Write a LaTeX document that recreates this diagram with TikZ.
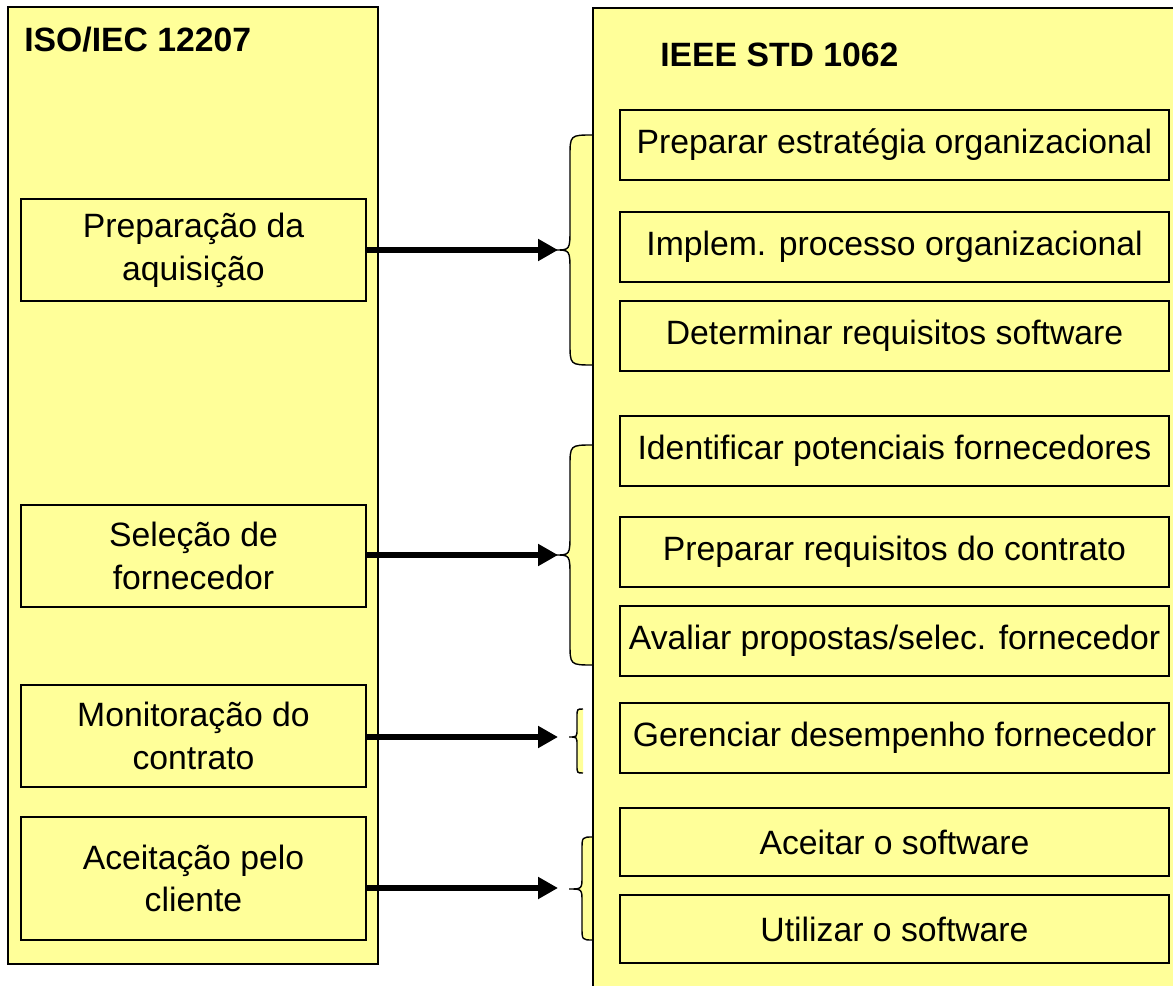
\documentclass[tikz,border=0pt]{standalone}
\usepackage{fontspec}
\setmainfont{Liberation Sans}
\usetikzlibrary{arrows.meta}
\definecolor{paleyellow}{HTML}{FFFF99}
\def\curlybrace(#1:#2:#3)(#4:#5:#6:#7){\path[bracefill] (#1,#4) .. controls (#2,#4) .. (#2,#4+#7) -- (#2,#5-#7) .. controls (#2,#5) .. (#3,#5) .. controls (#2,#5) .. (#2,#5+#7) -- (#2,#6-#7) .. controls (#2,#6) .. (#1,#6);}

\begin{document}
\begin{tikzpicture}[x=0.02cm, y=-0.02cm,
	panel/.style={draw=black, fill=paleyellow, line width=0.8pt},
	leftbox/.style={draw=black, fill=paleyellow, line width=0.8pt, minimum width=6.9cm, minimum height=2.04cm, inner sep=0pt, align=center, font=\fontsize{19.2}{24.4}\selectfont},
	rightbox/.style={draw=black, fill=paleyellow, line width=0.8pt, minimum width=10.98cm, minimum height=1.4cm, inner sep=0pt, font=\fontsize{19.2}{24.4}\selectfont},
	title/.style={anchor=west, inner sep=0pt, font=\fontsize{19.2}{24.4}\selectfont\bfseries},
	bracefill/.style={draw=black, fill=paleyellow, line width=0.8pt},
	flow/.style={line width=0.13cm, -{Triangle[length=0.4cm, width=0.42cm]}}]
		%%%%% START %%%%%
		\clip (0, 0) rectangle (1173, 986);
		
		% braces
		\curlybrace(593:570:555)(135:250:365:22);
		\curlybrace(593:570:555)(445:555:665:22);
		\curlybrace(583:577:569)(709:737:773:8);
		\curlybrace(593:582:569)(837:889:940:13);
		
		% the two panels
		\draw[panel] (8, 7) rectangle (378, 964);
		\draw[panel] (593, 8) rectangle (1190, 1000);
		
		\node[title] (iso) at (24, 40) {ISO/IEC 12207};
		\node[title] (ieee) at (660, 55) {IEEE STD 1062};
		
		\node[leftbox] (prep) at (193.5, 250) {Preparação da\\aquisição};
		\node[leftbox] (sel) at (193.5, 556) {Seleção de\\fornecedor};
		\node[leftbox] (mon) at (193.5, 736) {Monitoração do\\contrato};
		\node[leftbox, minimum height=2.46cm] (acc) at (193.5, 878.5) {Aceitação pelo\\cliente};
		
		\node[rightbox] (estr) at (894.5, 145) {Preparar estratégia organizacional};
		\node[rightbox] (impl) at (894.5, 247) {Implem. processo organizacional};
		\node[rightbox] (req) at (894.5, 336) {Determinar requisitos software};
		\node[rightbox] (ident) at (894.5, 451) {Identificar potenciais fornecedores};
		\node[rightbox] (contr) at (894.5, 552) {Preparar requisitos do contrato};
		\node[rightbox] (aval) at (894.5, 641) {Avaliar propostas/selec. fornecedor};
		\node[rightbox] (ger) at (894.5, 738) {Gerenciar desempenho fornecedor};
		\node[rightbox, minimum height=1.36cm] (aceit) at (894.5, 842) {Aceitar o software};
		\node[rightbox, minimum height=1.36cm] (util) at (894.5, 929) {Utilizar o software};
		
		% arrows
		\coordinate (tipA) at (558, 250);
		\coordinate (tipB) at (558, 555);
		\coordinate (tipC) at (558, 737);
		\coordinate (tipD) at (558, 888);
		\draw[flow] (prep.east) -- (tipA);
		\draw[flow] (sel.east |- tipB) -- (tipB);
		\draw[flow] (mon.east |- tipC) -- (tipC);
		\draw[flow] (acc.east |- tipD) -- (tipD);
		%%%%% END %%%%%
\end{tikzpicture}
\end{document}
